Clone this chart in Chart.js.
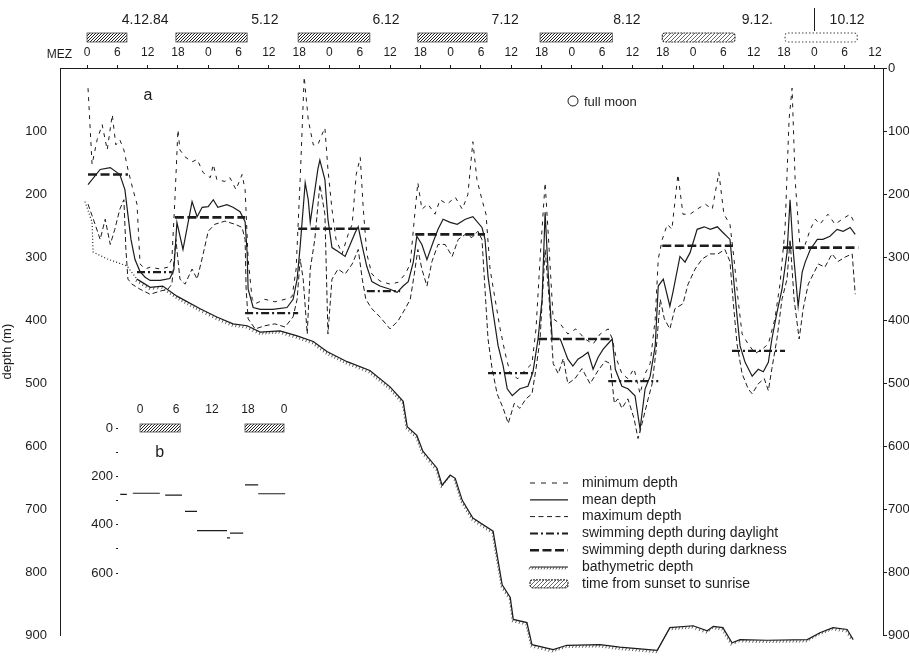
<!DOCTYPE html>
<html><head><meta charset="utf-8">
<script src="https://cdn.jsdelivr.net/npm/chart.js@4/dist/chart.umd.min.js"></script>
<style>
html,body{margin:0;padding:0;background:#fff}
#wrap{position:relative;width:909px;height:656px;overflow:hidden}
#c{position:absolute;left:0;top:0}
#inset{position:absolute;left:60px;top:390px}
</style>
</head><body><div id="wrap"><canvas id="c" width="909" height="656"></canvas><canvas id="inset" width="240" height="200"></canvas></div>
<script>
// ---------------- data (hours after 4.12.84 00:00 MEZ, depth in m) ----------------
const meanHours = [0.2,2.6,4.6,6.5,7.5,8.1,8.7,9.5,10.5,11.5,12.5,14.5,16.4,17.2,17.8,19.0,20.8,21.8,22.8,24.0,25.0,25.9,27.7,28.9,30.3,31.3,31.7,31.9,32.9,34.3,36.8,39.6,40.8,41.6,42.2,43.2,43.8,44.2,45.7,46.1,47.1,47.7,48.5,49.7,51.1,52.1,53.1,53.7,54.5,55.4,56.4,58.0,60.0,61.4,62.6,63.6,64.6,65.3,66.3,67.3,68.5,69.5,70.5,71.9,73.3,74.9,76.4,78.2,78.8,79.4,80.4,81.4,82.4,83.2,84.2,85.7,87.3,88.3,89.3,90.1,90.7,91.3,92.1,93.7,95.2,96.2,97.2,98.2,99.2,100.2,101.2,102.2,104.0,104.6,105.9,107.1,108.5,109.5,110.5,111.5,112.5,113.1,114.1,115.4,116.0,117.4,118.4,119.4,120.8,122.2,123.4,124.8,125.9,127.3,127.9,128.7,129.3,130.3,131.7,132.9,133.9,134.9,135.6,136.6,137.6,138.6,139.2,139.8,140.8,141.6,142.2,143.2,144.6,145.7,147.1,148.5,149.7,151.1,152.1];
const meanDepth = [185,161,158,169,193,233,272,304,323,332,337,337,334,320,245,288,212,236,221,220,209,221,217,221,228,244,293,351,380,383,383,380,367,335,283,182,209,245,161,146,177,240,285,291,299,280,261,252,283,315,339,346,351,356,346,339,308,267,280,304,277,256,240,245,248,240,236,253,272,331,388,441,473,509,520,509,505,482,430,367,229,324,430,430,462,473,462,457,451,478,459,446,430,478,505,509,520,573,509,489,441,346,335,378,356,299,308,293,256,252,256,252,261,272,324,394,441,467,489,478,482,467,430,388,351,293,209,288,378,324,308,288,272,272,267,256,259,253,264];

const minHours = [0.2,1.0,2.0,3.0,4.0,5.0,5.7,6.5,7.3,8.1,9.1,9.9,10.5,11.5,12.5,14.5,16.0,16.8,17.4,18.0,18.4,19.4,20.8,21.8,23.0,24.4,25.0,25.7,27.3,28.3,29.5,30.7,31.3,31.9,32.7,33.3,35.2,37.2,39.2,40.6,41.4,42.2,43.0,43.8,44.8,45.7,46.5,47.1,47.7,48.5,49.3,50.5,51.7,52.5,53.3,54.1,54.7,55.4,56.4,58.0,60.0,61.6,63.0,64.0,64.8,65.5,66.3,67.5,68.9,69.9,71.3,72.9,74.3,75.4,76.4,77.2,78.2,79.0,79.8,80.8,81.8,82.8,83.8,85.3,86.7,88.1,88.9,89.7,90.7,91.5,92.3,93.7,95.2,96.8,98.6,100.2,101.6,103.2,104.0,104.8,105.9,107.1,108.3,109.5,110.5,111.5,112.5,113.1,113.9,114.9,115.8,117.0,118.0,119.4,120.8,122.4,123.8,125.1,126.1,127.3,128.1,128.9,129.7,130.9,132.3,133.7,134.9,136.2,137.2,138.2,139.0,139.6,140.2,141.2,142.2,143.2,144.2,145.1,146.7,148.1,149.5,151.1,152.1];
const minDepth = [32,153,114,90,130,74,122,114,130,161,193,216,311,319,316,319,316,303,209,98,130,141,149,145,166,174,153,177,180,174,193,169,193,303,367,374,367,371,367,363,319,177,14,82,122,122,106,95,161,224,272,295,264,248,169,142,224,295,327,338,343,340,327,311,240,182,224,216,232,209,216,205,224,201,117,177,209,232,319,367,414,453,485,493,480,469,414,303,182,288,398,406,422,414,430,438,422,414,430,461,485,493,477,517,485,469,398,303,272,248,256,169,232,232,224,216,224,166,232,248,303,367,422,438,453,446,438,398,343,256,82,32,177,288,280,256,240,248,232,248,240,232,248];

const maxHours = [0.2,1.6,2.6,3.6,4.6,5.5,6.5,7.3,7.7,8.1,8.9,10.5,12.5,14.5,16.0,16.8,17.6,18.4,19.4,20.8,21.8,23.0,24.0,25.3,27.3,29.3,30.7,31.3,31.5,31.9,33.3,35.2,37.2,39.2,40.8,41.6,42.2,42.8,43.6,44.2,45.1,46.1,47.1,47.7,48.5,49.7,51.1,52.5,53.7,54.5,55.2,56.4,58.0,60.0,61.6,63.0,64.0,64.8,65.5,66.3,67.3,68.3,69.5,70.9,72.3,73.5,74.9,76.2,77.4,78.2,78.8,79.4,80.2,81.2,82.4,83.4,84.6,85.7,86.9,88.1,88.9,89.7,90.7,91.5,92.3,93.3,94.3,95.2,96.6,98.0,99.6,101.2,102.6,103.6,104.4,105.1,105.9,107.1,108.3,109.1,109.9,111.1,111.9,112.7,113.5,114.3,115.4,116.4,118.0,119.0,120.4,121.8,123.4,124.9,126.3,127.3,127.9,128.7,129.7,130.9,131.7,132.9,134.1,134.9,135.6,136.6,137.6,138.6,139.2,140.0,141.0,141.8,142.8,143.8,144.8,146.1,147.5,148.7,150.1,151.5,152.1];
const maxDepth = [216,248,272,240,280,256,224,209,288,335,343,351,359,354,351,343,272,335,343,319,335,295,259,248,243,248,253,272,351,398,414,409,406,411,395,367,303,335,422,319,272,185,232,422,335,319,327,311,288,335,367,382,395,414,401,382,367,327,288,319,346,307,280,280,299,272,264,269,259,272,351,430,477,517,540,564,532,540,525,517,477,430,288,367,469,485,461,501,493,477,501,480,465,469,532,525,540,525,556,588,564,525,501,446,367,398,414,382,374,343,319,303,295,295,288,307,367,438,485,509,517,501,493,512,477,430,367,335,272,367,430,382,343,327,311,316,295,307,300,295,359];

const bathyHours = [-0.4,1.0,1.2,4.0,7.9,9.9,12.5,15.0,17.8,22.4,25.7,28.9,31.7,34.3,38.2,41.6,44.8,47.5,51.5,56.0,60.0,62.6,63.4,65.3,66.5,69.3,70.3,71.9,72.9,74.3,76.4,80.4,82.2,83.8,84.4,87.1,88.1,92.3,95.0,101.6,105.5,112.9,115.4,120.0,122.8,124.0,125.9,127.7,129.3,134.7,142.6,145.1,147.7,150.5,151.7];
const bathyDepth = [212,245,292,303,314,335,348,346,362,382,395,406,409,419,417,425,434,450,466,480,506,529,569,583,608,635,662,646,651,686,714,735,820,840,875,880,915,923,916,915,919,924,888,885,893,886,888,912,907,908,907,896,888,891,907];

// swimming depth during darkness / daylight (start hour, end hour, depth)
const darkStart = [0.2,17.4,41.8,65.0,89.3,113.9,137.8];
const darkEnd   = [8.1,31.3,56.0,78.8,104.0,127.9,152.7];
const darkDepth = [169,237,255,264,430,282,285];
const dayStart = [9.9,31.3,55.4,79.4,103.2,127.7];
const dayEnd   = [16.8,41.8,62.0,88.7,113.1,138.2];
const dayDepth = [324,389,354,484,497,449];

// time from sunset to sunrise (hours)
const nightStart = [0,17.6,41.8,65.5,89.7,113.9,138.2];
const nightEnd   = [7.9,31.7,56.0,79.2,104.0,128.3,152.5];

// axis labels
const hourTicks = [0,6,12,18,24,30,36,42,48,54,60,66,72,78,84,90,96,102,108,114,120,126,132,138,144,150,156];
const leftDepthTicks = [100,200,300,400,500,600,700,800,900];
const rightDepthTicks = [0,100,200,300,400,500,600,700,800,900];
const dateLabels = ['4.12.84','5.12','6.12','7.12','8.12','9.12.','10.12'];
const dateHours = [11.5,35.2,59.2,82.8,106.9,132.7,150.5];
const legendLabels = ['minimum depth','mean depth','maximum depth','swimming depth during daylight','swimming depth during darkness','bathymetric depth','time from sunset to sunrise'];

// inset b (schematic day)
const insetTicks = [0,6,12,18,24];
const insetDepthTicks = [0,100,200,300,400,500,600];
const insetNightStart = [0,17.5];
const insetNightEnd = [6.7,24];
const insetSegStart = [-3.3,-1.2,4.2,7.5,9.5,14.5,15.0,17.5,19.7];
const insetSegEnd   = [-2.2,3.3,7.0,9.5,14.5,15.0,17.2,19.7,24.2];
const insetSegDepth = [275,270,278,345,425,455,435,235,272];

// ---------------- helpers ----------------
const INK = '#1c1c1c';
Chart.defaults.font.family = '"Liberation Sans", Arial, sans-serif';
Chart.defaults.color = INK;
const pts = (xs, ys) => xs.map((x, i) => ({x, y: ys[i]}));
function segs(s, e, d) { const out = []; s.forEach((v, i) => { out.push({x: v, y: d[i]}, {x: e[i], y: d[i]}, {x: e[i], y: null}); }); return out; }
function hatch(ctx, color, gap) {
  const c = document.createElement('canvas'); c.width = gap; c.height = gap;
  const g = c.getContext('2d'); g.strokeStyle = color; g.lineWidth = 1;
  g.beginPath(); g.moveTo(-1, gap + 1); g.lineTo(gap + 1, -1); g.stroke();
  return ctx.createPattern(c, 'repeat');
}
function rrect(ctx, x, y, w, h, r) {
  ctx.beginPath(); ctx.moveTo(x + r, y); ctx.lineTo(x + w - r, y); ctx.quadraticCurveTo(x + w, y, x + w, y + r);
  ctx.lineTo(x + w, y + h - r); ctx.quadraticCurveTo(x + w, y + h, x + w - r, y + h); ctx.lineTo(x + r, y + h);
  ctx.quadraticCurveTo(x, y + h, x, y + h - r); ctx.lineTo(x, y + r); ctx.quadraticCurveTo(x, y, x + r, y); ctx.closePath();
}
function nightBar(ctx, x0, x1, y0, h, kind) {
  ctx.save();
  if (kind === 0) {
    ctx.fillStyle = hatch(ctx, '#222', 3); ctx.fillRect(x0, y0, x1 - x0, h);
    ctx.strokeStyle = '#444'; ctx.lineWidth = 0.8; ctx.strokeRect(x0, y0, x1 - x0, h);
  } else if (kind === 1) {
    rrect(ctx, x0, y0, x1 - x0, h, 3); ctx.fillStyle = hatch(ctx, '#666', 4); ctx.fill();
    ctx.setLineDash([2, 1]); ctx.strokeStyle = '#333'; ctx.lineWidth = 1.2; ctx.stroke();
  } else {
    rrect(ctx, x0, y0, x1 - x0, h, 3); ctx.setLineDash([1.5, 2]); ctx.strokeStyle = '#444'; ctx.lineWidth = 1.1; ctx.stroke();
  }
  ctx.restore();
}
function bathyTicks(ctx, meta, fromIdx) {
  ctx.save(); ctx.strokeStyle = INK; ctx.lineWidth = 0.7; ctx.beginPath();
  for (let i = fromIdx; i < meta.data.length - 1; i++) {
    const a = meta.data[i], b = meta.data[i + 1];
    const L = Math.hypot(b.x - a.x, b.y - a.y); const n = Math.floor(L / 3.2);
    for (let k = 0; k < n; k++) { const t = k / Math.max(n, 1); const px = a.x + (b.x - a.x) * t, py = a.y + (b.y - a.y) * t;
      ctx.moveTo(px, py); ctx.lineTo(px - 1.2, py + 2.8); }
  }
  ctx.stroke(); ctx.restore();
}

// ---------------- decorations plugin ----------------
const decor = {
  id: 'decor',
  afterDatasetsDraw(chart) {
    bathyTicks(chart.ctx, chart.getDatasetMeta(0), 5);
  },
  afterDraw(chart) {
    const ctx = chart.ctx, xs = chart.scales.x;
    ctx.save();
    ctx.fillStyle = INK; ctx.textBaseline = 'middle';
    ctx.font = '14px "Liberation Sans", Arial, sans-serif'; ctx.textAlign = 'center';
    dateLabels.forEach((t, i) => ctx.fillText(t, xs.getPixelForValue(dateHours[i]), 20));
    ctx.strokeStyle = INK; ctx.lineWidth = 1; ctx.beginPath();
    const sx = Math.round(xs.getPixelForValue(144)) + 0.5; ctx.moveTo(sx, 8); ctx.lineTo(sx, 31); ctx.stroke();
    nightStart.forEach((s, i) => nightBar(ctx, xs.getPixelForValue(s), xs.getPixelForValue(nightEnd[i]), 33, 9, i < 5 ? 0 : (i === 5 ? 1 : 2)));
    ctx.font = '12px "Liberation Sans", Arial, sans-serif'; ctx.textAlign = 'right'; ctx.fillText('MEZ', 72, 55);
    ctx.font = '16px "Liberation Sans", Arial, sans-serif'; ctx.textAlign = 'center'; ctx.fillText('a', 148, 96);
    ctx.lineWidth = 1; ctx.beginPath(); ctx.arc(573, 101, 5, 0, Math.PI * 2); ctx.stroke();
    ctx.font = '13px "Liberation Sans", Arial, sans-serif'; ctx.textAlign = 'left'; ctx.fillText('full moon', 584, 102);
    const lx0 = 530, lx1 = 568, tx = 582;
    ctx.font = '14px "Liberation Sans", Arial, sans-serif';
    legendLabels.forEach((t, i) => {
      const y = 483 + i * 16.8;
      ctx.fillStyle = INK; ctx.fillText(t, tx, y);
      ctx.save(); ctx.strokeStyle = INK; ctx.beginPath();
      if (i === 0) { ctx.setLineDash([5, 6]); ctx.lineWidth = 1; }
      if (i === 1) { ctx.setLineDash([]); ctx.lineWidth = 1.2; }
      if (i === 2) { ctx.setLineDash([5, 3.5]); ctx.lineWidth = 1; }
      if (i === 3) { ctx.setLineDash([8, 3, 2, 3]); ctx.lineWidth = 2; }
      if (i === 4) { ctx.setLineDash([9, 3.5]); ctx.lineWidth = 2.6; }
      if (i === 5) { ctx.setLineDash([]); ctx.lineWidth = 1; }
      if (i < 6) { ctx.moveTo(lx0, y); ctx.lineTo(lx1, y); ctx.stroke(); }
      if (i === 5) { ctx.lineWidth = 0.7; ctx.beginPath(); for (let px = lx0; px < lx1; px += 3) { ctx.moveTo(px, y); ctx.lineTo(px - 1, y + 2.5); } ctx.stroke(); }
      if (i === 6) { nightBar(ctx, lx0, lx1, y - 4, 8, 1); }
      ctx.restore();
    });
    ctx.restore();
  }
};

// ---------------- main chart ----------------
new Chart(document.getElementById('c'), {
  type: 'line',
  data: { datasets: [
    { label: 'bathymetric depth', data: pts(bathyHours, bathyDepth), borderColor: INK, borderWidth: 1.2, clip: false,
      segment: { borderDash: c => c.p0.parsed.x < 9.8 ? [1, 2.2] : undefined } },
    { label: 'minimum depth', data: pts(minHours, minDepth), borderColor: INK, borderWidth: 1, borderDash: [4, 5] },
    { label: 'maximum depth', data: pts(maxHours, maxDepth), borderColor: INK, borderWidth: 1, borderDash: [5, 3] },
    { label: 'mean depth', data: pts(meanHours, meanDepth), borderColor: INK, borderWidth: 1.2 },
    { label: 'swimming depth during daylight', data: segs(dayStart, dayEnd, dayDepth), borderColor: INK, borderWidth: 2.2, borderDash: [8, 3, 2, 3], spanGaps: false },
    { label: 'swimming depth during darkness', data: segs(darkStart, darkEnd, darkDepth), borderColor: INK, borderWidth: 2.6, borderDash: [9, 3.5], spanGaps: false }
  ]},
  options: {
    responsive: false, animation: false, devicePixelRatio: 1,
    layout: { padding: { left: 0, right: 0, top: 0, bottom: 19 } },
    elements: { point: { radius: 0 }, line: { tension: 0, fill: false } },
    plugins: { legend: { display: false }, tooltip: { enabled: false } },
    scales: {
      x: { type: 'linear', position: 'top', min: -5.35, max: 157.6,
        afterFit: s => { s.height = 68; },
        afterBuildTicks: s => { s.ticks = hourTicks.map(v => ({value: v})); },
        ticks: { callback: v => String(v % 24), font: { size: 12 }, padding: 5, maxRotation: 0, autoSkip: false },
        grid: { display: true, drawOnChartArea: false, drawTicks: true, tickLength: 3, color: INK },
        border: { display: true, color: INK, width: 1 } },
      y: { type: 'linear', position: 'left', reverse: true, min: 0, max: 900,
        afterFit: s => { s.width = 60; },
        afterBuildTicks: s => { s.ticks = leftDepthTicks.map(v => ({value: v})); },
        ticks: { font: { size: 13 }, padding: 13 },
        title: { display: true, text: 'depth (m)', font: { size: 13 }, padding: { top: 0, bottom: 0 } },
        grid: { display: true, drawOnChartArea: false, drawTicks: false },
        border: { display: true, color: INK, width: 1 } },
      y2: { type: 'linear', position: 'right', reverse: true, min: 0, max: 900,
        afterFit: s => { s.width = 26; },
        afterBuildTicks: s => { s.ticks = rightDepthTicks.map(v => ({value: v})); },
        ticks: { font: { size: 13 }, padding: 1 },
        grid: { display: true, drawOnChartArea: false, drawTicks: true, tickLength: 4, color: INK },
        border: { display: true, color: INK, width: 1 } }
    }
  },
  plugins: [decor]
});

// ---------------- inset b ----------------
const insetDecor = {
  id: 'insetDecor',
  afterDraw(chart) {
    const ctx = chart.ctx, xs = chart.scales.x, ys = chart.scales.y;
    insetNightStart.forEach((s, i) => nightBar(ctx, xs.getPixelForValue(s), xs.getPixelForValue(insetNightEnd[i]), ys.getPixelForValue(0) - 4, 8, 0));
    ctx.save(); ctx.fillStyle = INK; ctx.font = '16px "Liberation Sans", Arial, sans-serif'; ctx.textAlign = 'center'; ctx.textBaseline = 'middle';
    ctx.fillText('b', xs.getPixelForValue(3.3), ys.getPixelForValue(100)); ctx.restore();
  }
};
new Chart(document.getElementById('inset'), {
  type: 'line',
  data: { datasets: [
    { data: segs(insetSegStart, insetSegEnd, insetSegDepth), borderColor: INK, borderWidth: 1.2, spanGaps: false }
  ]},
  options: {
    responsive: false, animation: false, devicePixelRatio: 1,
    layout: { padding: { left: 0, right: 10, top: 0, bottom: 17 } },
    elements: { point: { radius: 0 }, line: { tension: 0 } },
    plugins: { legend: { display: false }, tooltip: { enabled: false } },
    scales: {
      x: { type: 'linear', position: 'top', min: -3.67, max: 25,
        afterFit: s => { s.height = 38; },
        afterBuildTicks: s => { s.ticks = insetTicks.map(v => ({value: v})); },
        ticks: { callback: v => String(v % 24), font: { size: 12 }, padding: 11, maxRotation: 0, autoSkip: false },
        grid: { display: false, drawTicks: false }, border: { display: false } },
      y: { type: 'linear', position: 'left', reverse: true, min: 0, max: 600,
        afterFit: s => { s.width = 58; },
        afterBuildTicks: s => { s.ticks = insetDepthTicks.map(v => ({value: v})); },
        ticks: { callback: v => (v % 200 === 0 ? String(v) : ''), font: { size: 13 }, padding: 3 },
        grid: { display: true, drawOnChartArea: false, drawTicks: true, tickLength: 2, color: INK },
        border: { display: false } }
    }
  },
  plugins: [insetDecor]
});
</script>
</body></html>
